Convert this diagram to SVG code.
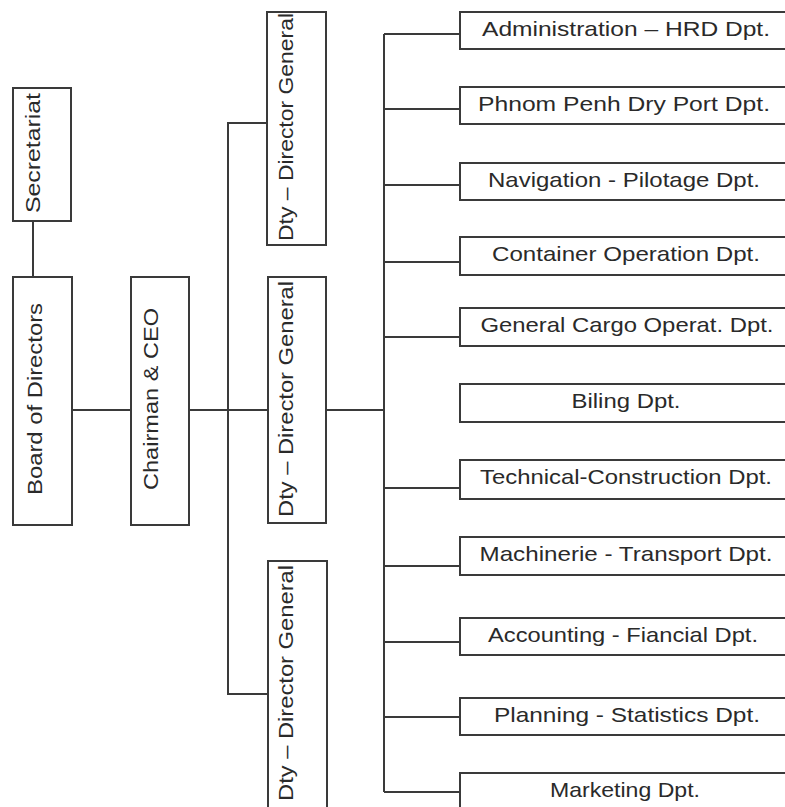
<svg xmlns="http://www.w3.org/2000/svg" width="785" height="807" viewBox="0 0 785 807">
<style>
.bx{fill:#fff;stroke:#3a3a3a;stroke-width:2}
.ln{fill:none;stroke:#3a3a3a;stroke-width:2}
.t{font-family:"Liberation Sans",Arial,sans-serif;font-size:21px;fill:#2a2a2a}
.c{text-anchor:middle}
</style>
<rect width="785" height="807" fill="#fff"/>
<g id="connectors" class="ln">
<line x1="33" y1="221" x2="33" y2="277"/>
<line x1="72" y1="410" x2="131" y2="410"/>
<line x1="189" y1="410" x2="268" y2="410"/>
<polyline points="268,123 228,123 228,694 268,694"/>
<line x1="326" y1="410" x2="384" y2="410"/>
<line x1="384" y1="34" x2="384" y2="792"/>
<line x1="384" y1="34" x2="460" y2="34"/>
<line x1="384" y1="109" x2="460" y2="109"/>
<line x1="384" y1="185" x2="460" y2="185"/>
<line x1="384" y1="262" x2="460" y2="262"/>
<line x1="384" y1="337" x2="460" y2="337"/>
<line x1="384" y1="488" x2="460" y2="488"/>
<line x1="384" y1="566" x2="460" y2="566"/>
<line x1="384" y1="642" x2="460" y2="642"/>
<line x1="384" y1="717" x2="460" y2="717"/>
<line x1="384" y1="792" x2="460" y2="792"/>
</g>
<g id="secretariat"><rect class="bx" x="13" y="88" width="58" height="133"/><text class="t c" transform="translate(40,153) rotate(-90)" textLength="120" lengthAdjust="spacingAndGlyphs">Secretariat</text></g>
<g id="board"><rect class="bx" x="13" y="277" width="59" height="248"/><text class="t c" transform="translate(42,399) rotate(-90)" textLength="192" lengthAdjust="spacingAndGlyphs">Board of Directors</text></g>
<g id="chairman"><rect class="bx" x="131" y="277" width="58" height="248"/><text class="t c" transform="translate(158,399) rotate(-90)" textLength="182" lengthAdjust="spacingAndGlyphs">Chairman &amp; CEO</text></g>
<g id="dty1"><rect class="bx" x="267" y="12" width="59" height="233"/><text class="t c" transform="translate(293,127) rotate(-90)" textLength="228" lengthAdjust="spacingAndGlyphs">Dty – Director General</text></g>
<g id="dty2"><rect class="bx" x="268" y="277" width="58" height="246"/><text class="t c" transform="translate(293,399) rotate(-90)" textLength="236" lengthAdjust="spacingAndGlyphs">Dty – Director General</text></g>
<g id="dty3"><rect class="bx" x="268" y="561" width="59" height="250"/><text class="t c" transform="translate(293,683) rotate(-90)" textLength="236" lengthAdjust="spacingAndGlyphs">Dty – Director General</text></g>
<g id="admin"><rect class="bx" x="460" y="12" width="340" height="37"/><text class="t c" x="626" y="36" textLength="288" lengthAdjust="spacingAndGlyphs">Administration – HRD Dpt.</text></g>
<g id="phnompenh"><rect class="bx" x="460" y="87" width="340" height="37"/><text class="t c" x="624" y="111" textLength="292" lengthAdjust="spacingAndGlyphs">Phnom Penh Dry Port Dpt.</text></g>
<g id="navigation"><rect class="bx" x="460" y="163" width="340" height="37"/><text class="t c" x="624" y="187" textLength="272" lengthAdjust="spacingAndGlyphs">Navigation - Pilotage Dpt.</text></g>
<g id="container"><rect class="bx" x="460" y="237" width="340" height="38"/><text class="t c" x="626" y="261" textLength="268" lengthAdjust="spacingAndGlyphs">Container Operation Dpt.</text></g>
<g id="cargo"><rect class="bx" x="460" y="308" width="340" height="38"/><text class="t c" x="627" y="332" textLength="293" lengthAdjust="spacingAndGlyphs">General Cargo Operat. Dpt.</text></g>
<g id="biling"><rect class="bx" x="460" y="384" width="340" height="38"/><text class="t c" x="626" y="408" textLength="109" lengthAdjust="spacingAndGlyphs">Biling Dpt.</text></g>
<g id="technical"><rect class="bx" x="460" y="460" width="340" height="39"/><text class="t c" x="626" y="484" textLength="292" lengthAdjust="spacingAndGlyphs">Technical-Construction Dpt.</text></g>
<g id="machinerie"><rect class="bx" x="460" y="537" width="340" height="38"/><text class="t c" x="626" y="561" textLength="293" lengthAdjust="spacingAndGlyphs">Machinerie - Transport Dpt.</text></g>
<g id="accounting"><rect class="bx" x="460" y="618" width="340" height="37"/><text class="t c" x="623" y="642" textLength="270" lengthAdjust="spacingAndGlyphs">Accounting - Fiancial Dpt.</text></g>
<g id="planning"><rect class="bx" x="460" y="698" width="340" height="37"/><text class="t c" x="627" y="722" textLength="266" lengthAdjust="spacingAndGlyphs">Planning - Statistics Dpt.</text></g>
<g id="marketing"><rect class="bx" x="460" y="773" width="340" height="40"/><text class="t c" x="625" y="797" textLength="150" lengthAdjust="spacingAndGlyphs">Marketing Dpt.</text></g>
</svg>
